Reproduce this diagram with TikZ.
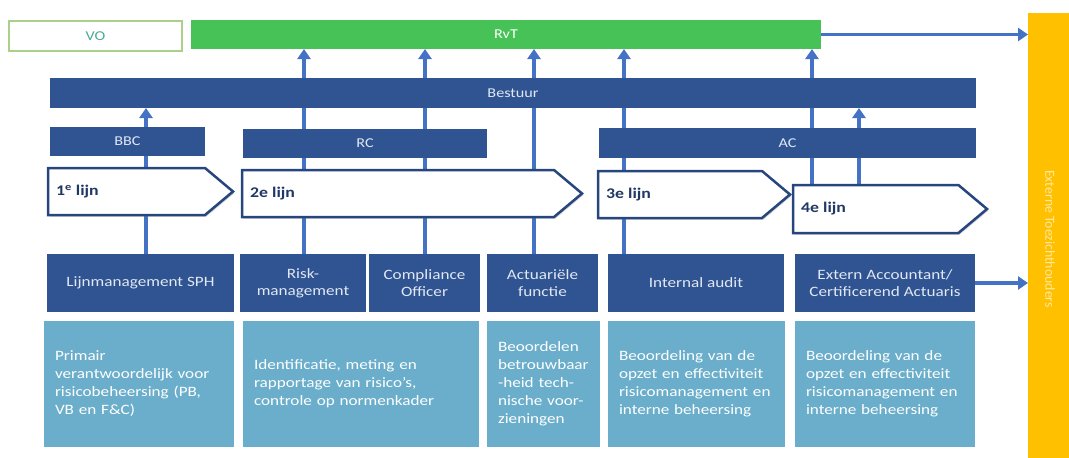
\documentclass[tikz,border=0pt]{standalone}
\usepackage{fontspec}
\setmainfont{Carlito}[FakeStretch=1.2]
\newfontfamily\plainfont{Carlito}
\usetikzlibrary{arrows.meta,shapes.symbols,shadows,backgrounds}

\definecolor{navy}{RGB}{47,84,145}
\definecolor{paleblue}{RGB}{106,174,203}
\definecolor{rvtgreen}{RGB}{70,194,87}
\definecolor{amber}{RGB}{255,192,0}
\definecolor{linkblue}{RGB}{68,114,196}
\definecolor{voline}{RGB}{170,208,140}
\definecolor{votext}{RGB}{78,170,150}
\definecolor{ambertext}{RGB}{255,232,160}
\definecolor{lijnborder}{RGB}{40,70,126}
\definecolor{lijntext}{RGB}{31,56,100}
\definecolor{boxtext}{RGB}{225,232,243}

\begin{document}
\begin{tikzpicture}[x=1pt,y=-1pt,
  base/.style={anchor=north west, inner sep=0pt, outer sep=0pt},
  bar/.style={base, fill=navy, text=boxtext, font=\fontsize{13.5}{15}\selectfont},
  unit/.style={base, fill=navy, text=boxtext, align=center,
    font=\fontsize{14.3}{16.7}\selectfont},
  note/.style={base, fill=paleblue, text=white, align=left, inner xsep=11pt,
    font=\fontsize{14.3}{18}\selectfont},
  lijn/.style={shape=signal, signal to=east, signal pointer angle=80,
    anchor=north west, inner sep=0pt, outer sep=0pt, fill=white,
    draw=lijnborder, line width=2.5pt,
    drop shadow={shadow xshift=1.5pt, shadow yshift=-1.5pt, opacity=0.35}},
  lijntxt/.style={anchor=west, inner sep=0pt, text=lijntext,
    font=\fontsize{14.8}{16}\selectfont\bfseries},
  link/.style={draw=linkblue, line width=3.5pt,
    -{Triangle[width=13pt,length=10pt]}},
]
\useasboundingbox (0,0) rectangle (1069,458);

% top row
\node[base, draw=voline, line width=1.3pt, minimum width=173, minimum height=30,
  text=votext, font=\fontsize{13.5}{15}\selectfont] (vo) at (9,21) {VO};
\node[base, fill=rvtgreen, minimum width=630, minimum height=29,
  text=white, font=\fontsize{13.5}{15}\selectfont] (rvt) at (191,20) {RvT};

% supervisory bodies
\node[bar, minimum width=926, minimum height=30] (bestuur) at (50,78) {Bestuur};
\node[bar, minimum width=155, minimum height=29] (bbc) at (50,127) {BBC};
\node[bar, minimum width=244, minimum height=29] (rc) at (243,129) {RC};
\node[bar, minimum width=377, minimum height=30] (ac) at (599,128) {AC};

% lines of defence
\node[lijn, minimum width=185, minimum height=47] (l1) at (48,168) {};
\node[lijn, minimum width=340, minimum height=47] (l2) at (242,170) {};
\node[lijn, minimum width=192, minimum height=47] (l3) at (598,171) {};
\node[lijn, minimum width=194, minimum height=48] (l4) at (793,185) {};
\node[lijntxt] (t1) at ([xshift=8pt]l1.west) {1\textsuperscript{e} lijn};
\node[lijntxt] (t2) at ([xshift=8pt]l2.west) {2e lijn};
\node[lijntxt] (t3) at ([xshift=8pt]l3.west) {3e lijn};
\node[lijntxt] (t4) at ([xshift=8pt]l4.west) {4e lijn};

% functions
\node[unit, minimum width=187, minimum height=58] (lm) at (47,254) {Lijnmanagement SPH};
\node[unit, minimum width=126, minimum height=58] (risk) at (240,254) {Risk-\\management};
\node[unit, minimum width=111, minimum height=58] (comp) at (369,254) {Compliance\\Officer};
\node[unit, minimum width=111, minimum height=58] (act) at (487,254) {Actuariële\\functie};
\node[unit, minimum width=176, minimum height=58] (ia) at (608,254) {Internal audit};
\node[unit, minimum width=180, minimum height=58] (ext) at (795,254) {Extern Accountant/\\Certificerend Actuaris};

% descriptions
\node[note, text width=168, minimum height=126] (d1) at (44,321)
  {Primair\\verantwoordelijk voor\\risicobeheersing (PB,\\VB en F\&C)};
\node[note, text width=214, minimum height=126] (d2) at (243,321)
  {Identificatie, meting en\\rapportage van risico’s,\\controle op normenkader};
\node[note, text width=91, minimum height=126] (d3) at (487,321)
  {Beoordelen\\betrouwbaar\\-heid tech-\\nische voor-\\zieningen};
\node[note, text width=155, minimum height=126] (d4) at (608,321)
  {Beoordeling van de\\opzet en effectiviteit\\risicomanagement en\\interne beheersing};
\node[note, text width=158, minimum height=126] (d5) at (795,321)
  {Beoordeling van de\\opzet en effectiviteit\\risicomanagement en\\interne beheersing};

% external supervisors
\node[base, fill=amber, minimum width=41, minimum height=445] (ext sup) at (1028,13) {};
\node[rotate=-90, text=ambertext, inner sep=0pt,
  font=\plainfont\fontsize{13.8}{15}\selectfont] (ext sup txt) at (1050,239)
  {Externe Toezichthouders};

% reporting lines
\coordinate (xa) at (146,0);
\coordinate (xb) at (304,0);
\coordinate (xc) at (425,0);
\coordinate (xd) at (534,0);
\coordinate (xe) at (624,0);
\coordinate (xf) at (812,0);
\coordinate (xg) at (859,0);
\begin{scope}[on background layer]
  \draw[link] (lm.north -| xa) -- (bestuur.south -| xa);
  \draw[link] (risk.north -| xb) -- (rvt.south -| xb);
  \draw[link] (comp.north -| xc) -- (rvt.south -| xc);
  \draw[link] (act.north -| xd) -- (rvt.south -| xd);
  \draw[link] (ia.north -| xe) -- (rvt.south -| xe);
  \draw[link] (l4.north -| xf) -- (rvt.south -| xf);
  \draw[link] (l4.north -| xg) -- (bestuur.south -| xg);
\end{scope}
\draw[link] (rvt.east) -- (ext sup.west |- rvt.east);
\draw[link] (ext.east) -- (ext sup.west |- ext.east);
\end{tikzpicture}
\end{document}
